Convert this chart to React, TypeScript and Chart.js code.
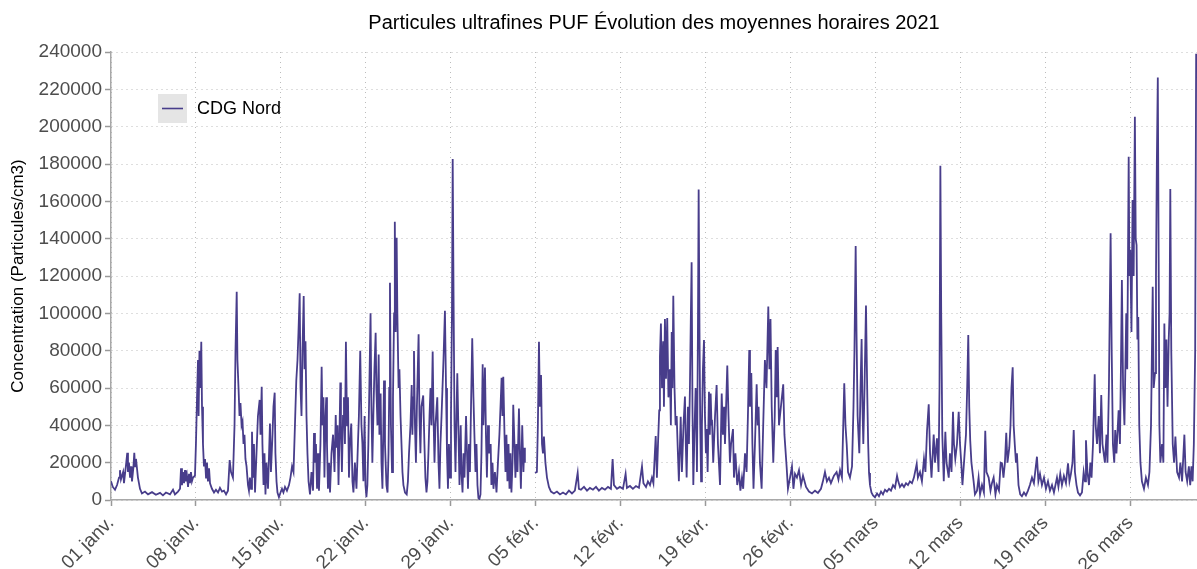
import React, { useEffect, useRef } from 'react';
import { Chart, registerables } from 'chart.js';

Chart.register(...registerables);

const TITRE = 'Particules ultrafines PUF Évolution des moyennes horaires 2021';
const SERIE = 'CDG Nord';
const TITRE_Y = 'Concentration (Particules/cm3)';
const COULEUR = 'rgb(72,61,139)';
const POLICE = '"Liberation Sans", Arial, Helvetica, sans-serif';

// x = jours écoulés depuis le 01/01/2021 00:00
const joursTicks = [0, 7, 14, 21, 28, 35, 42, 49, 56, 63, 70, 77, 84];
const etiquettesX = ['01 janv.', '08 janv.', '15 janv.', '22 janv.', '29 janv.', '05 févr.', '12 févr.', '19 févr.', '26 févr.', '05 mars', '12 mars', '19 mars', '26 mars'];
const ticksY = [0, 20000, 40000, 60000, 80000, 100000, 120000, 140000, 160000, 180000, 200000, 220000, 240000];
const X_MAX = 89.5;

const janvier: [number, number | null][] = [
  [0, 10000], [0.15, 7000], [0.33, 5500], [0.5, 8000], [0.66, 12000], [0.74, 16000], [0.82, 11000], [1.0, 15000], [1.07, 9000], [1.24, 19000],
  [1.34, 25300], [1.4, 15000], [1.48, 20000], [1.57, 12000], [1.65, 18000], [1.73, 10000], [1.84, 17000], [1.92, 25300], [1.98, 18000], [2.06, 22000],
  [2.22, 12000], [2.39, 6000], [2.55, 3500], [2.8, 4500], [3.05, 3000], [3.38, 4200], [3.7, 2800], [4.04, 3800], [4.28, 2500], [4.53, 4000],
  [4.86, 3000], [5.11, 5500], [5.27, 3000], [5.52, 4500], [5.69, 6000], [5.77, 17000], [5.85, 8000], [5.93, 15000], [6.02, 9000], [6.1, 16000],
  [6.18, 10000], [6.26, 13000], [6.35, 7000], [6.43, 14000], [6.51, 9000], [6.59, 15000], [6.67, 10000], [6.76, 12000], [6.92, 13000], [7.0, 30000],
  [7.09, 55000], [7.17, 75000], [7.22, 45000], [7.29, 80000], [7.37, 60000], [7.44, 84800], [7.5, 50000], [7.58, 30000], [7.66, 18000], [7.75, 22000],
  [7.83, 12000], [7.91, 20000], [7.99, 10000], [8.08, 17000], [8.16, 9000], [8.32, 6000], [8.49, 4000], [8.65, 5500], [8.82, 4000], [8.98, 6500],
  [9.15, 4500], [9.31, 5000], [9.48, 3000], [9.64, 5000], [9.78, 21400], [9.89, 15000], [10.05, 12000], [10.18, 40000], [10.26, 80000], [10.36, 111600],
  [10.42, 75000], [10.51, 60000], [10.59, 45000], [10.67, 52000], [10.76, 40000], [10.84, 42000], [10.92, 30000], [11.0, 35000], [11.08, 22000], [11.17, 18000],
  [11.29, 8000], [11.37, 5000], [11.45, 12000], [11.54, 6000], [11.62, 36600], [11.7, 12000], [11.78, 30000], [11.87, 4000], [11.99, 25000], [12.11, 45000],
  [12.25, 53600], [12.32, 35000], [12.42, 60700], [12.48, 30000], [12.57, 8000], [12.65, 25000], [12.73, 3000], [12.81, 20000], [12.94, 6000], [13.1, 41000],
  [13.18, 15000], [13.31, 35000], [13.39, 50000], [13.49, 57500], [13.55, 25000], [13.64, 10000], [13.72, 4000], [13.84, 1500], [13.97, 4000], [14.09, 6000],
  [14.21, 4000], [14.34, 7000], [14.5, 5000], [14.67, 8000], [14.79, 12000], [14.92, 18000], [15.04, 15000], [15.16, 40000], [15.27, 64000], [15.37, 75000],
  [15.45, 90000], [15.55, 110700], [15.62, 60000], [15.7, 45000], [15.78, 80000], [15.88, 109300], [15.95, 70000], [16.03, 85000], [16.11, 45000], [16.19, 25000],
  [16.28, 10000], [16.4, 3000], [16.52, 15000], [16.65, 5000], [16.73, 35900], [16.81, 20000], [16.89, 30000], [16.98, 6000], [17.06, 25000], [17.14, 5000],
  [17.26, 30000], [17.36, 71400], [17.43, 40000], [17.51, 55000], [17.59, 12000], [17.68, 45000], [17.74, 55000], [17.8, 30000], [17.88, 6000], [17.97, 20000],
  [18.05, 4000], [18.17, 25000], [18.3, 35000], [18.42, 15000], [18.52, 45500], [18.58, 28000], [18.67, 40000], [18.75, 8000], [18.83, 35000], [18.9, 62900],
  [18.95, 40000], [19.03, 15000], [19.12, 45000], [19.2, 55000], [19.28, 30000], [19.36, 84800], [19.45, 40000], [19.53, 55000], [19.61, 12000], [19.69, 30000],
  [19.8, 41000], [19.9, 10000], [19.98, 4000], [20.1, 20000], [20.23, 6000], [20.35, 30000], [20.43, 45000], [20.54, 80000], [20.64, 40000], [20.72, 30000],
  [20.8, 10000], [20.9, 45000], [20.97, 8000], [21.05, 1500], [21.13, 8000], [21.21, 30000], [21.29, 60000], [21.39, 100000], [21.46, 50000], [21.54, 20000],
  [21.62, 45000], [21.71, 70000], [21.81, 89600], [21.87, 60000], [21.96, 40000], [22.06, 78000], [22.12, 35000], [22.22, 57000], [22.29, 20000], [22.37, 6000],
  [22.5, 64000], [22.58, 30000], [22.7, 8000], [22.79, 4000], [22.87, 25000], [22.93, 60000], [22.99, 116400], [23.07, 40000], [23.16, 15000], [23.24, 55000],
  [23.33, 100000], [23.39, 149000], [23.46, 90000], [23.54, 140500], [23.6, 100000], [23.7, 60000], [23.77, 70000], [23.86, 45000], [23.94, 30000], [24.02, 15000],
  [24.1, 8000], [24.23, 4000], [24.37, 3000], [24.47, 10000], [24.56, 25000], [24.68, 40000], [24.78, 61600], [24.84, 35000], [24.9, 55000], [24.97, 79800],
  [25.05, 40000], [25.13, 20000], [25.21, 50000], [25.35, 88800], [25.42, 45000], [25.5, 25000], [25.58, 50000], [25.73, 56000], [25.83, 30000], [25.91, 12000],
  [26.0, 4000], [26.08, 10000], [26.16, 25000], [26.25, 45000], [26.33, 60000], [26.41, 40000], [26.51, 79500], [26.58, 45000], [26.66, 20000], [26.74, 40000],
  [26.89, 55000], [26.99, 20000], [27.07, 6000], [27.15, 30000], [27.24, 45000], [27.32, 60000], [27.4, 75000], [27.52, 101400], [27.61, 60000], [27.69, 25000],
  [27.77, 6000], [27.85, 30000], [27.94, 12000], [28.02, 45000], [28.1, 100000], [28.16, 182700], [28.23, 110000], [28.31, 40000], [28.39, 15000], [28.47, 45000],
  [28.54, 67900], [28.64, 35000], [28.72, 8000], [28.82, 40000], [28.88, 15000], [28.97, 4000], [29.05, 25000], [29.13, 12000], [29.26, 45000], [29.34, 25000],
  [29.42, 6000], [29.5, 30000], [29.58, 15000], [29.67, 50000], [29.77, 86600], [29.87, 55000], [29.95, 35000], [30.04, 15000], [30.12, 30000], [30.2, 8000],
  [30.28, 1000], [30.36, 500], [30.45, 3000], [30.53, 25000], [30.63, 72700], [30.69, 40000], [30.82, 71000], [30.9, 35000], [30.98, 12000],
];

const fevrier: [number, number | null][] = [
  [31.07, 40000], [31.15, 25000], [31.29, 30000], [31.35, 8000], [31.44, 20000], [31.52, 6000], [31.64, 15000], [31.77, 4000], [31.89, 20000], [32.01, 35000],
  [32.1, 50000], [32.19, 65500], [32.26, 45000], [32.33, 66000], [32.43, 35000], [32.51, 15000], [32.59, 35000], [32.67, 10000], [32.76, 30000], [32.84, 6000],
  [32.92, 25000], [33.0, 4000], [33.09, 20000], [33.15, 51000], [33.25, 30000], [33.33, 12000], [33.41, 30000], [33.5, 15000], [33.62, 49000], [33.7, 25000],
  [33.78, 6000], [33.89, 40000], [33.99, 15000], [34.05, 28000], [34.11, 20000], [34.5, null], [34.94, 14500], [35.1, 15000], [35.18, 40000], [35.27, 84800],
  [35.35, 50000], [35.44, 67000], [35.52, 30000], [35.6, 25000], [35.68, 34000], [35.8, 20000], [35.93, 12000], [36.09, 7000], [36.26, 4500], [36.5, 3500],
  [36.75, 4500], [37.0, 3000], [37.25, 4000], [37.49, 3000], [37.74, 5000], [37.99, 3500], [38.23, 5000], [38.46, 14600], [38.56, 6000], [38.73, 5500],
  [38.98, 7000], [39.23, 5000], [39.47, 6500], [39.72, 5500], [39.97, 7000], [40.21, 5000], [40.46, 6500], [40.71, 5500], [40.96, 7000], [41.2, 6000],
  [41.34, 22000], [41.45, 8000], [41.7, 6000], [41.94, 7000], [42.19, 6000], [42.41, 14000], [42.52, 6500], [42.77, 7500], [43.01, 6000], [43.26, 7500],
  [43.51, 6500], [43.76, 18000], [43.88, 9000], [44.09, 7000], [44.25, 10000], [44.42, 8000], [44.58, 12000], [44.7, 9000], [44.89, 34300], [44.99, 12000],
  [45.08, 30000], [45.18, 48000], [45.24, 76800], [45.32, 94600], [45.41, 60000], [45.51, 85000], [45.57, 50000], [45.65, 97000], [45.74, 65000], [45.84, 97500],
  [45.94, 55000], [46.06, 70000], [46.14, 40000], [46.21, 90000], [46.27, 60000], [46.34, 109400], [46.44, 60000], [46.53, 40000], [46.62, 45000], [46.72, 25000],
  [46.8, 10000], [46.89, 30000], [46.95, 44600], [47.05, 15000], [47.18, 40000], [47.3, 55400], [47.37, 30000], [47.44, 12000], [47.55, 50000], [47.63, 30000],
  [47.71, 60000], [47.78, 95000], [47.85, 127300], [47.92, 50000], [47.99, 8000], [48.08, 35000], [48.18, 60000], [48.24, 40000], [48.29, 15000], [48.37, 90000],
  [48.43, 166400], [48.5, 90000], [48.56, 40000], [48.63, 10000], [48.7, 40000], [48.78, 70000], [48.87, 85700], [48.95, 45000], [49.03, 25000], [49.09, 38000],
  [49.17, 15000], [49.28, 58000], [49.35, 35000], [49.42, 57100], [49.49, 40000], [49.53, 43000], [49.63, 20000], [49.78, 45000], [49.91, 61600], [50.02, 30000],
  [50.19, 8000], [50.33, 57000], [50.43, 35000], [50.52, 50000], [50.6, 30000], [50.79, 72000], [50.89, 45000], [51.01, 20000], [51.1, 30000], [51.26, 38000],
  [51.34, 12000], [51.46, 25000], [51.61, 8000], [51.75, 15000], [51.87, 5000], [52.0, 12000], [52.1, 6000], [52.25, 25000], [52.38, 15000], [52.49, 45000],
  [52.6, 80400], [52.66, 50000], [52.77, 68000], [52.86, 30000], [52.95, 6000], [53.07, 30000], [53.21, 62000], [53.29, 40000], [53.37, 50000], [53.48, 20000],
  [53.62, 6000], [53.75, 40000], [53.89, 75000], [54.02, 60000], [54.17, 103600], [54.26, 70000], [54.35, 97000], [54.45, 50000], [54.58, 20000], [54.7, 45000],
  [54.78, 80400], [54.86, 55000], [54.94, 82000], [55.05, 40000], [55.21, 50000], [55.4, 62000], [55.5, 35000], [55.68, 17900], [55.79, 6000], [55.96, 12000],
  [56.12, 18000], [56.24, 6000], [56.37, 14000], [56.53, 12000], [56.7, 16000], [56.87, 8000], [57.03, 13000], [57.28, 7000], [57.52, 4500], [57.77, 3500],
  [58.02, 5000], [58.26, 3800], [58.51, 6000], [58.67, 10000], [58.84, 15000],
];

const mars: [number, number | null][] = [
  [59.0, 10000], [59.17, 12000], [59.33, 9000], [59.58, 13000], [59.8, 15000], [59.95, 11000], [60.08, 16000], [60.24, 12000], [60.43, 62500], [60.53, 40000],
  [60.63, 30000], [60.74, 15000], [60.9, 12000], [61.07, 18000], [61.19, 50000], [61.27, 80000], [61.37, 136000], [61.44, 90000], [61.53, 45000], [61.67, 25000],
  [61.77, 60000], [61.86, 86200], [61.93, 50000], [62.0, 30000], [62.1, 60000], [62.22, 104200], [62.33, 55000], [62.4, 30000], [62.47, 14500], [62.55, 8000],
  [62.67, 4000], [62.8, 2500], [62.96, 1500], [63.13, 3500], [63.29, 2000], [63.46, 4500], [63.62, 3000], [63.79, 5500], [63.95, 4500], [64.12, 6000],
  [64.28, 5000], [64.45, 8000], [64.61, 6500], [64.78, 13000], [64.88, 10000], [65.02, 7000], [65.19, 8500], [65.35, 7000], [65.52, 9000], [65.68, 8000],
  [65.84, 10000], [66.01, 9000], [66.17, 12000], [66.4, 19300], [66.5, 12000], [66.67, 15000], [66.83, 10000], [67.0, 22000], [67.12, 15000], [67.25, 37000],
  [67.39, 51300], [67.5, 25000], [67.62, 12000], [67.8, 35000], [67.91, 20000], [68.07, 33000], [68.2, 15000], [68.28, 60000], [68.35, 179000], [68.42, 100000],
  [68.51, 35000], [68.63, 10000], [68.76, 36600], [68.86, 20000], [69.04, 12000], [69.14, 25000], [69.27, 15000], [69.39, 47300], [69.47, 30000], [69.58, 22000],
  [69.72, 30000], [69.86, 47300], [69.97, 30000], [70.07, 20000], [70.17, 8000], [70.35, 25000], [70.46, 35000], [70.56, 60000], [70.65, 88400], [70.73, 50000],
  [70.81, 32000], [70.91, 20000], [71.09, 10000], [71.2, 3000], [71.37, 5000], [71.5, 12000], [71.62, 3000], [71.78, 8000], [71.94, 4000], [72.05, 37100],
  [72.15, 15000], [72.33, 12000], [72.48, 5000], [72.6, 9000], [72.74, 12000], [72.89, 3000], [73.01, 8000], [73.18, 5000], [73.32, 20000], [73.43, 19600],
  [73.55, 12000], [73.67, 20000], [73.78, 36000], [73.88, 20000], [74.03, 28000], [74.13, 40000], [74.21, 60000], [74.31, 71100], [74.39, 40000], [74.48, 30000],
  [74.58, 20000], [74.66, 25000], [74.79, 8000], [74.93, 3000], [75.07, 2000], [75.24, 4000], [75.4, 2500], [75.57, 5000], [75.73, 8000], [75.9, 12000],
  [76.06, 9000], [76.31, 23200], [76.43, 10000], [76.56, 14000], [76.72, 8000], [76.89, 12000], [77.05, 6000], [77.22, 10000], [77.38, 5000], [77.55, 8000],
  [77.71, 4000], [77.96, 12000], [78.08, 7000], [78.23, 14000], [78.37, 8000], [78.53, 13000], [78.7, 9000], [78.87, 19600], [78.99, 10000], [79.11, 14000],
  [79.24, 20000], [79.34, 37500], [79.44, 15000], [79.57, 8000], [79.69, 4000], [79.86, 2500], [80.02, 4000], [80.16, 15000], [80.27, 10000], [80.35, 32000],
  [80.47, 15000], [80.6, 8000], [80.71, 20000], [80.81, 12000], [80.93, 30000], [81.07, 67300], [81.15, 40000], [81.26, 30000], [81.4, 45000], [81.5, 25000],
  [81.61, 56200], [81.71, 30000], [81.81, 25000], [81.91, 20000], [82.04, 35000], [82.12, 20000], [82.24, 60000], [82.38, 142900], [82.47, 80000], [82.57, 30000],
  [82.68, 20000], [82.76, 37500], [82.86, 25000], [83.04, 48000], [83.15, 30000], [83.23, 70000], [83.31, 117900], [83.41, 60000], [83.52, 40000], [83.67, 100000],
  [83.75, 70000], [83.87, 183900], [83.93, 120000], [84.0, 134000], [84.1, 90000], [84.19, 160700], [84.28, 120000], [84.38, 205300], [84.45, 140000], [84.52, 136600],
  [84.59, 86000], [84.66, 98000], [84.74, 40000], [84.84, 20000], [84.96, 10000], [85.13, 6000], [85.29, 12000], [85.46, 8000], [85.58, 15000], [85.71, 40000],
  [85.85, 114300], [85.93, 60000], [86.04, 68000], [86.12, 120000], [86.19, 180000], [86.27, 226400], [86.34, 130000], [86.4, 40000], [86.48, 20000], [86.62, 30000],
  [86.73, 20000], [86.81, 94600], [86.89, 60000], [86.98, 86000], [87.07, 50000], [87.17, 86000], [87.24, 100000], [87.3, 166600], [87.38, 80000], [87.5, 30000],
  [87.61, 20000], [87.72, 34000], [87.86, 15000], [88.02, 12000], [88.13, 20000], [88.27, 10000], [88.46, 35000], [88.56, 15000], [88.69, 10000], [88.83, 18000],
  [88.94, 8000], [89.04, 18000], [89.14, 10000], [89.24, 30000], [89.35, 80000], [89.43, 239000],
];

const legendeInterne = {
  id: 'legendeInterne',
  afterDraw(chart: any) {
    const { ctx, chartArea } = chart;
    const ds = chart.data.datasets[0];
    const x = chartArea.left + 47;
    const y = chartArea.top + 42;
    ctx.save();
    ctx.fillStyle = '#e5e5e5';
    ctx.fillRect(x, y, 29, 29);
    ctx.strokeStyle = ds.borderColor;
    ctx.lineWidth = 1.6;
    ctx.beginPath();
    ctx.moveTo(x + 4, y + 14.5);
    ctx.lineTo(x + 25, y + 14.5);
    ctx.stroke();
    ctx.fillStyle = '#000';
    ctx.font = `18px ${POLICE}`;
    ctx.textBaseline = 'middle';
    ctx.textAlign = 'left';
    ctx.fillText(ds.label, x + 39, y + 15);
    ctx.restore();
  },
};

export default function App() {
  const ref = useRef<HTMLCanvasElement | null>(null);

  useEffect(() => {
    if (!ref.current) return;
    const points = [...janvier, ...fevrier, ...mars].map(([x, y]) => ({ x, y }));
    const chart = new Chart(ref.current, {
      type: 'line',
      data: {
        datasets: [
          {
            label: SERIE,
            data: points as any,
            borderColor: COULEUR,
            backgroundColor: COULEUR,
            borderWidth: 1.8,
            pointRadius: 0,
            tension: 0,
            spanGaps: false,
          },
        ],
      },
      options: {
        animation: false,
        responsive: true,
        maintainAspectRatio: false,
        layout: { padding: 0 },
        plugins: {
          legend: { display: false },
          tooltip: { enabled: false },
          title: {
            display: true,
            text: TITRE,
            fullSize: false,
            color: '#000',
            font: { family: POLICE, size: 20, weight: 'normal' },
            padding: { top: 11, bottom: 17 },
          },
        },
        scales: {
          x: {
            type: 'linear',
            min: 0,
            max: X_MAX,
            afterBuildTicks: (axis: any) => {
              axis.ticks = joursTicks.map((v) => ({ value: v }));
            },
            afterFit: (scale: any) => {
              scale.height = 69;
            },
            ticks: {
              autoSkip: false,
              minRotation: 45,
              maxRotation: 45,
              padding: 6,
              color: '#4d4d4d',
              font: { family: POLICE, size: 19 },
              callback: (_v: any, i: number) => etiquettesX[i],
            },
            grid: {
              color: '#bcbcbc',
              lineWidth: 1,
              tickColor: '#999',
              tickLength: 6,
              tickWidth: 1.5,
              tickBorderDash: [],
            },
            border: { display: true, color: '#a8a8a8', width: 1.5, dash: [1, 4] },
          },
          y: {
            type: 'linear',
            min: 0,
            max: 240000,
            afterBuildTicks: (axis: any) => {
              axis.ticks = ticksY.map((v) => ({ value: v }));
            },
            afterFit: (scale: any) => {
              scale.width = 111;
            },
            ticks: {
              padding: 3,
              color: '#4d4d4d',
              font: { family: POLICE, size: 19 },
              callback: (v: any) => String(v),
            },
            grid: {
              color: '#bcbcbc',
              lineWidth: 1,
              tickColor: '#999',
              tickLength: 6,
              tickWidth: 1.5,
              tickBorderDash: [],
            },
            border: { display: true, color: '#a8a8a8', width: 1.5, dash: [1, 4] },
            title: {
              display: true,
              text: TITRE_Y,
              color: '#000',
              font: { family: POLICE, size: 17 },
              padding: { top: 8, bottom: 0 },
            },
          },
        },
      },
      plugins: [legendeInterne],
    });
    return () => chart.destroy();
  }, []);

  return (
    <div style={{ position: 'fixed', left: 0, top: 0, width: 1197, height: 569, background: '#fff' }}>
      <canvas ref={ref} />
    </div>
  );
}
